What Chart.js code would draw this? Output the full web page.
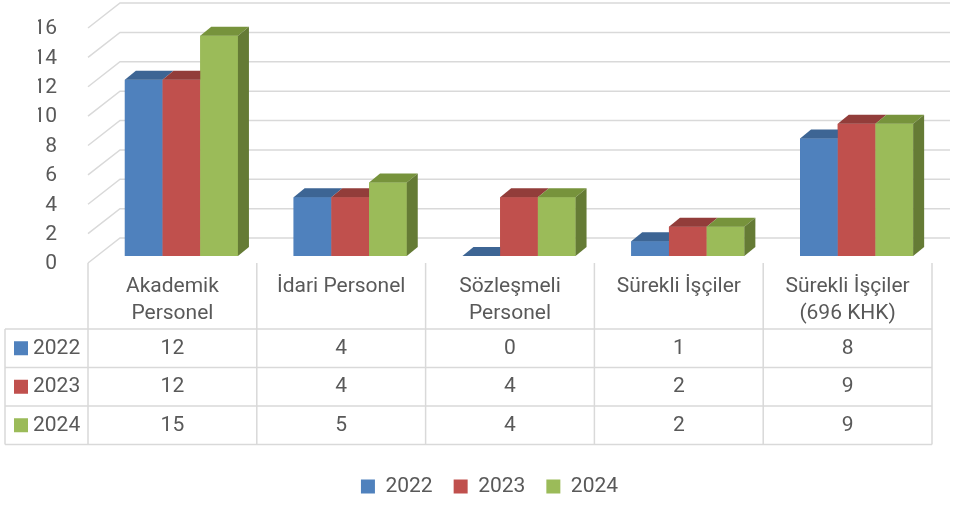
<!DOCTYPE html>
<html>
<head>
<meta charset="utf-8">
<script src="https://cdn.jsdelivr.net/npm/chart.js@4.4.0/dist/chart.umd.min.js"></script>
<style>
  html, body { margin: 0; padding: 0; background: #fff; }
  canvas { display: block; }
</style>
</head>
<body>
<canvas id="grafico" width="955" height="507"></canvas>
<script>
const categories = [["Akademik", "Personel"], ["İdari Personel"], ["Sözleşmeli", "Personel"], ["Sürekli İşçiler"], ["Sürekli İşçiler", "(696 KHK)"]];
const years = ["2022", "2023", "2024"];
const values2022 = [12, 4, 0, 1, 8];
const values2023 = [12, 4, 4, 2, 9];
const values2024 = [15, 5, 4, 2, 9];

const frontColors = ["#4F81BD", "#C0504D", "#9BBB59"];
const topColors = ["#3D6594", "#923D3A", "#77933C"];
const sideColors = ["#34567F", "#7E3431", "#657B35"];
const textColor = "#595959";
const lineColor = "#D9D9D9";
const fontFam = "Roboto, 'Liberation Sans', sans-serif";

// 3D offsets
const DX = 11, DY = 9;        // bar depth
const FX = 9, FY = 7;         // bars plane -> front plane
const BX = 23, BY = 18;       // bars plane -> back wall

Chart.defaults.font.family = fontFam;
Chart.defaults.color = textColor;

function poly(ctx, pts, color) {
  ctx.beginPath();
  ctx.moveTo(pts[0][0], pts[0][1]);
  for (let k = 1; k < pts.length; k++) ctx.lineTo(pts[k][0], pts[k][1]);
  ctx.closePath();
  ctx.fillStyle = color;
  ctx.fill();
}

const paredes = {
  id: "paredes",
  beforeDatasetsDraw(chart) {
    const ctx = chart.ctx;
    const y = chart.scales.y;
    const left = chart.chartArea.left;
    ctx.save();
    ctx.strokeStyle = lineColor;
    ctx.lineWidth = 1.5;
    y.ticks.forEach((t) => {
      const py = y.getPixelForValue(t.value);
      ctx.beginPath();
      ctx.moveTo(left - FX, py + FY);
      ctx.lineTo(left + BX, py - BY);
      ctx.lineTo(950, py - BY);
      ctx.stroke();
    });
    ctx.restore();
  },
};

const barras3d = {
  id: "barras3d",
  afterDatasetsDraw(chart) {
    const ctx = chart.ctx;
    const metas = chart.data.datasets.map((d, i) => chart.getDatasetMeta(i));
    ctx.save();
    for (let j = 0; j < categories.length; j++) {
      metas.forEach((meta, i) => {
        const { x, y, base, width } = meta.data[j].getProps(["x", "y", "base", "width"], true);
        const l = x - width / 2, r = x + width / 2;
        ctx.fillStyle = frontColors[i];
        ctx.fillRect(l, y, width, base - y);
        poly(ctx, [[l, y], [l + DX, y - DY], [r + DX, y - DY], [r, y]], topColors[i]);
        if (i === metas.length - 1) {
          poly(ctx, [[r, y], [r + DX, y - DY], [r + DX, base - DY], [r, base]], sideColors[i]);
        }
      });
    }
    ctx.restore();
  },
};

const tabla = {
  id: "tabla",
  afterDraw(chart) {
    const ctx = chart.ctx;
    const xs = chart.scales.x;
    const ys = chart.scales.y;
    const area = chart.chartArea;
    const n = categories.length;
    const catW = (area.right - area.left) / n;
    const top = ys.getPixelForValue(0) + FY;
    const headBottom = top + 66;
    const rowH = 38.5;
    const tableLeft = 5;
    const colLeft = (j) => xs.getPixelForValue(j) - FX - catW / 2;
    const tableRight = colLeft(n - 1) + catW;
    const bottom = headBottom + rowH * years.length;
    const series = [values2022, values2023, values2024];

    ctx.save();
    ctx.strokeStyle = lineColor;
    ctx.lineWidth = 1.5;
    // horizontal lines
    for (let r = 0; r <= years.length; r++) {
      const py = headBottom + r * rowH;
      ctx.beginPath();
      ctx.moveTo(tableLeft, py);
      ctx.lineTo(tableRight, py);
      ctx.stroke();
    }
    // vertical lines
    ctx.beginPath();
    ctx.moveTo(tableLeft, headBottom);
    ctx.lineTo(tableLeft, bottom);
    ctx.stroke();
    for (let j = 0; j <= n; j++) {
      const px = colLeft(0) + j * catW;
      ctx.beginPath();
      ctx.moveTo(px, top);
      ctx.lineTo(px, bottom);
      ctx.stroke();
    }

    ctx.font = "21px " + fontFam;
    ctx.fillStyle = textColor;
    ctx.textBaseline = "middle";
    ctx.textAlign = "center";
    categories.forEach((lines, j) => {
      const cx = colLeft(j) + catW / 2;
      lines.forEach((txt, k) => ctx.fillText(txt, cx, top + 24 + k * 27));
    });
    series.forEach((vals, r) => {
      const cy = headBottom + r * rowH + rowH / 2;
      ctx.textAlign = "center";
      ctx.fillStyle = textColor;
      vals.forEach((v, j) => ctx.fillText(String(v), colLeft(j) + catW / 2, cy));
      ctx.fillStyle = frontColors[r];
      ctx.fillRect(14, cy - 7, 14, 14);
      ctx.fillStyle = textColor;
      ctx.textAlign = "left";
      ctx.fillText(years[r], 33, cy);
    });
    ctx.restore();
  },
};

new Chart(document.getElementById("grafico"), {
  type: "bar",
  data: {
    labels: categories.map((c) => c.join(" ")),
    datasets: [
      { label: years[0], data: values2022, backgroundColor: frontColors[0] },
      { label: years[1], data: values2023, backgroundColor: frontColors[1] },
      { label: years[2], data: values2024, backgroundColor: frontColors[2] },
    ],
  },
  options: {
    responsive: false,
    animation: false,
    layout: { padding: { top: 21, left: 38, right: 14, bottom: 0 } },
    datasets: { bar: { barPercentage: 1, categoryPercentage: 0.67 } },
    plugins: {
      tooltip: { enabled: false },
      legend: {
        position: "bottom",
        labels: { boxWidth: 14, boxHeight: 14, padding: 21, color: textColor, font: { size: 21 } },
      },
    },
    scales: {
      x: {
        grid: { display: false },
        border: { display: false },
        ticks: { display: false },
        afterFit: (s) => { s.height = 199; },
      },
      y: {
        min: 0,
        max: 16,
        grid: { display: false },
        border: { display: false },
        ticks: { stepSize: 2, autoSkip: false, padding: 32, labelOffset: 8, color: textColor, font: { size: 21 } },
        afterFit: (s) => { s.width = 59; s.paddingTop = 0; s.paddingBottom = 0; },
      },
    },
  },
  plugins: [paredes, barras3d, tabla],
});
</script>
</body>
</html>
